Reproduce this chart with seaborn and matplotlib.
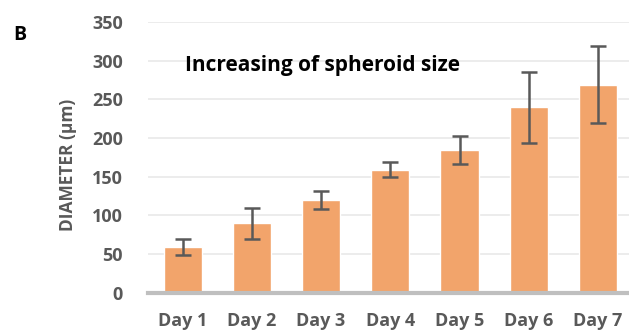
import matplotlib
matplotlib.use("Agg")
import matplotlib.pyplot as plt
import seaborn as sns
import pandas as pd

# Spheroid diameter over seven days (mean and SD)
days = ["Day 1", "Day 2", "Day 3", "Day 4", "Day 5", "Day 6", "Day 7"]
diameter = [59, 90, 120, 159, 184, 240, 269]
sd = [10, 20, 12, 10, 18, 46, 50]
y_ticks = [0, 50, 100, 150, 200, 250, 300, 350]

sns.set_theme(style="white")
plt.rcParams["font.family"] = ["Open Sans", "DejaVu Sans"]

df = pd.DataFrame({"day": days, "diameter": diameter, "sd": sd})

fig = plt.figure(figsize=(6.29, 3.30), dpi=100)
ax = fig.add_axes([0.2353, 0.113, 0.7704, 0.8203])

sns.barplot(data=df, x="day", y="diameter", color="#F2A46B", saturation=1,
            width=0.55, errorbar=None, ax=ax, zorder=2)
ax.errorbar(range(len(days)), df["diameter"], yerr=df["sd"], fmt="none",
            ecolor="#595959", elinewidth=1.8, capsize=6, capthick=1.8, zorder=3)

ax.set_xlim(-0.5, len(days) - 0.5)
ax.set_ylim(0, 350)
ax.set_yticks(y_ticks)
ax.yaxis.grid(True, color="#ececec", linewidth=1.4, zorder=0)
ax.set_axisbelow(True)
for s in ["top", "right", "left"]:
    ax.spines[s].set_visible(False)
ax.spines["bottom"].set_color("#bfbfbf")
ax.spines["bottom"].set_linewidth(3)
ax.spines["bottom"].set_zorder(4)

ax.tick_params(axis="both", length=0, labelsize=13, labelcolor="#595959")
ax.tick_params(axis="x", pad=14)
ax.tick_params(axis="y", pad=18)
for lbl in ax.get_xticklabels() + ax.get_yticklabels():
    lbl.set_fontweight("bold")

ax.set_xlabel("")
ax.set_ylabel("")
fig.text(0.108, 0.50, "DIAMETER (µm)", rotation=90, fontsize=12.5,
         fontweight="bold", color="#595959", ha="center", va="center")

fig.text(0.512, 0.80, "Increasing of spheroid size", fontsize=15,
         fontweight="bold", color="black", ha="center", va="center")
fig.text(0.031, 0.895, "B", fontsize=14, fontweight="bold", color="black",
         ha="center", va="center")

fig.savefig("out.png", dpi=100, facecolor="white")
